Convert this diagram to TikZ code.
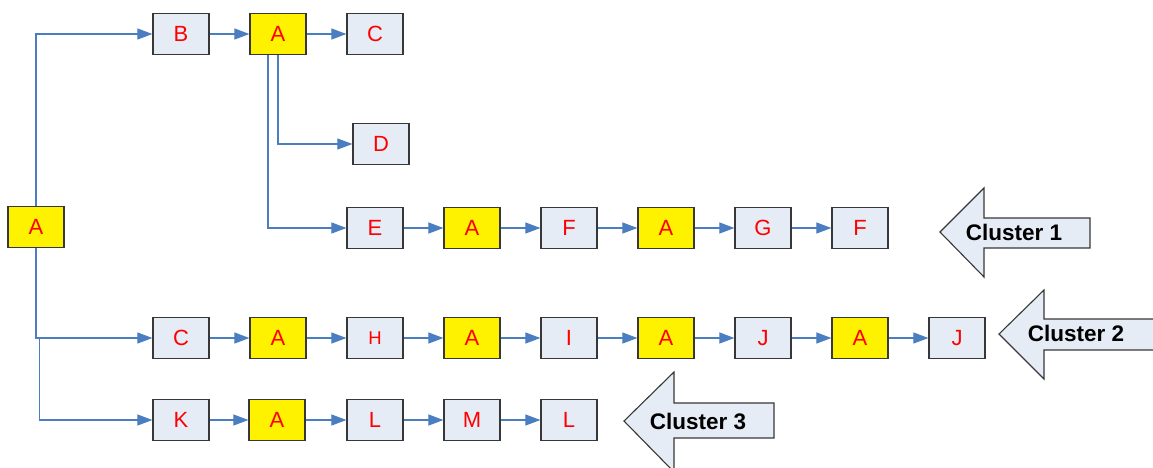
\documentclass[tikz,border=0pt]{standalone}
\usepackage{fontspec}
\setmainfont{Liberation Sans}
\usetikzlibrary{arrows.meta}
\definecolor{boxfill}{RGB}{230,236,245}
\definecolor{boxline}{RGB}{55,55,55}
\definecolor{conncol}{RGB}{74,126,193}
\definecolor{nodered}{RGB}{255,0,0}
\tikzset{
  box/.style={draw=boxline, line width=1.2pt, minimum width=56pt, minimum height=41pt, inner sep=0pt,
    font=\fontsize{22}{22}\selectfont, text=nodered},
  small/.style={font=\fontsize{18.5}{18.5}\selectfont},
  lt/.style={box, fill=boxfill},
  yl/.style={box, fill=yellow},
  conn/.style={draw=conncol, line width=1.1pt, -{Triangle[length=15pt,width=11pt]}},
  clarrow/.style={draw=boxline, line width=1.1pt, fill=boxfill, line join=miter},
  cltext/.style={font=\fontsize{22.5}{22.5}\selectfont\bfseries, text=black, inner sep=0pt}
}
\begin{document}
\begin{tikzpicture}[x=1pt,y=-1pt]
\useasboundingbox (0,0) rectangle (1153,467);
% left root
\node[yl] (a0) at (36,227) {A};
% top row
\node[lt] (b1) at (181,34) {B};
\node[yl] (a1) at (278,34) {A};
\node[lt] (c1) at (375,34) {C};
\node[lt] (d1) at (381,144) {D};
% row 1
\node[lt] (e1) at (375,228) {E};
\node[yl] (a11) at (472,228) {A};
\node[lt] (f1) at (569,228) {F};
\node[yl] (a12) at (666,228) {A};
\node[lt] (g1) at (763,228) {G};
\node[lt] (f2) at (860,228) {F};
% row 2
\node[lt] (c2) at (181,338) {C};
\node[yl] (a21) at (278,338) {A};
\node[lt,small] (h2) at (375,338) {H};
\node[yl] (a22) at (472,338) {A};
\node[lt] (i2) at (569,338) {I};
\node[yl] (a23) at (666,338) {A};
\node[lt] (j2) at (763,338) {J};
\node[yl] (a24) at (860,338) {A};
\node[lt] (j3) at (957,338) {J};
% row 3
\node[lt] (k3) at (181,420) {K};
\node[yl] (a31) at (277,420) {A};
\node[lt] (l3) at (375,420) {L};
\node[lt] (m3) at (472,420) {M};
\node[lt] (l4) at (569,420) {L};
% connectors
\draw[conn] (a0.north) |- (b1);
\draw[conn] (a0.south) |- (c2);
\coordinate (br) at (39.5,338);
\draw[conn] (br) |- (k3);
\draw[conn] (b1) -- (a1);
\draw[conn] (a1) -- (c1);
\draw[conn] (a1.south) |- (d1);
\draw[conn] ([xshift=-10pt]a1.south) |- (e1);
\draw[conn] (e1) -- (a11);
\draw[conn] (a11) -- (f1);
\draw[conn] (f1) -- (a12);
\draw[conn] (a12) -- (g1);
\draw[conn] (g1) -- (f2);
\draw[conn] (c2) -- (a21);
\draw[conn] (a21) -- (h2);
\draw[conn] (h2) -- (a22);
\draw[conn] (a22) -- (i2);
\draw[conn] (i2) -- (a23);
\draw[conn] (a23) -- (j2);
\draw[conn] (j2) -- (a24);
\draw[conn] (a24) -- (j3);
\draw[conn] (k3) -- (a31);
\draw[conn] (a31) -- (l3);
\draw[conn] (l3) -- (m3);
\draw[conn] (m3) -- (l4);
% cluster arrows
\draw[clarrow] (940,232) -- (984,188) -- (984,218) -- (1090,218) -- (1090,248) -- (984,248) -- (984,277) -- cycle;
\node[cltext] (cl1) at (1014,232) {Cluster 1};
\draw[clarrow] (999,334) -- (1044,290) -- (1044,319) -- (1165,319) -- (1165,350) -- (1044,350) -- (1044,379) -- cycle;
\node[cltext] (cl2) at (1076,333) {Cluster 2};
\draw[clarrow] (624,421) -- (674,372) -- (674,403) -- (774,403) -- (774,438) -- (674,438) -- (674,472) -- cycle;
\node[cltext] (cl3) at (698,421) {Cluster 3};
\end{tikzpicture}
\end{document}
